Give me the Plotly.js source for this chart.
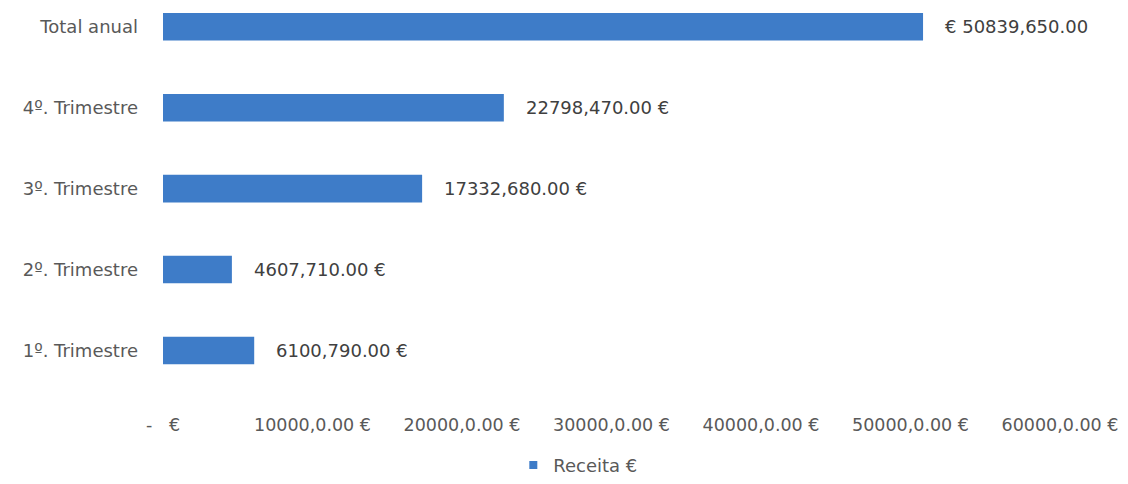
<!DOCTYPE html>
<html>
<head>
<meta charset="utf-8">
<script src="https://cdn.plot.ly/plotly-3.0.1.min.js"></script>
<style>html,body{margin:0;padding:0;background:#fff;}#chart{width:1128px;height:484px;}</style>
</head>
<body>
<div id="chart"></div>
<script>
const categories = ["1º. Trimestre", "2º. Trimestre", "3º. Trimestre", "4º. Trimestre", "Total anual"];
const values = [6100.79, 4607.71, 17332.68, 22798.47, 50839.65];
const valueLabels = ["6100,790.00 €", "4607,710.00 €", "17332,680.00 €", "22798,470.00 €", "€ 50839,650.00"];
const xTickVals = [0, 10000, 20000, 30000, 40000, 50000, 60000];
const xTickText = ["-\u00a0\u00a0\u00a0€", "10000,0.00 €", "20000,0.00 €", "30000,0.00 €", "40000,0.00 €", "50000,0.00 €", "60000,0.00 €"];
const seriesName = "Receita €";
const barColor = "#3e7cc8";

const trace = {
  type: "bar",
  orientation: "h",
  y: categories,
  x: values,
  name: seriesName,
  marker: {color: barColor},
  hoverinfo: "none",
  showlegend: false
};

// legend-only entry with a small square marker
const legendTrace = {
  type: "scatter", mode: "markers",
  x: [null], y: [null],
  name: seriesName,
  marker: {symbol: "square", size: 8, color: barColor},
  showlegend: true, hoverinfo: "none"
};

const annotations = categories.map((c, i) => ({
  x: values[i], y: c, xref: "x", yref: "y",
  text: valueLabels[i], showarrow: false,
  xanchor: "left", yanchor: "middle", xshift: 20,
  font: {family: "DejaVu Sans", size: 18, color: "#404040"}
}));

const layout = {
  width: 1128, height: 484,
  margin: {l: 163, r: 68, t: 0, b: 90},
  paper_bgcolor: "#ffffff", plot_bgcolor: "#ffffff",
  bargap: 0.66,
  font: {family: "DejaVu Sans", color: "#595959"},
  xaxis: {
    range: [0, 60000], tickvals: xTickVals, ticktext: xTickText,
    showgrid: false, zeroline: false, showline: false, ticks: "",
    ticklabelstandoff: 21,
    tickfont: {family: "DejaVu Sans", size: 17.5, color: "#595959"}
  },
  yaxis: {
    type: "category", range: [-0.5, 4.33],
    showgrid: false, zeroline: false, showline: false, ticks: "",
    ticklabelstandoff: 24,
    tickfont: {family: "DejaVu Sans", size: 18, color: "#595959"}
  },
  legend: {
    orientation: "h", x: 0.463, xanchor: "center", y: -0.19, yanchor: "middle",
    font: {family: "DejaVu Sans", size: 18, color: "#595959"},
    itemwidth: 30
  },
  annotations: annotations,
  showlegend: true
};

Plotly.newPlot("chart", [trace, legendTrace], layout, {displayModeBar: false, staticPlot: true});
</script>
</body>
</html>
